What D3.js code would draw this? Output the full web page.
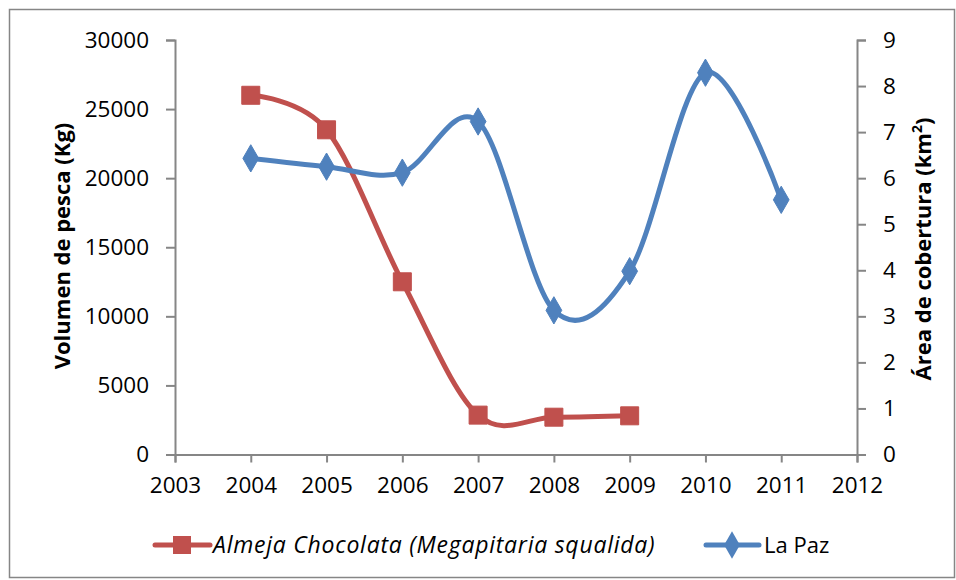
<!DOCTYPE html>
<html><head><meta charset="utf-8">
<script src="https://cdn.jsdelivr.net/npm/d3@7"></script>
<style>
body{margin:0;background:#fff;}
svg{display:block;font-family:"Open Sans",Arial,sans-serif;}
</style></head>
<body><svg id="c" width="956" height="580"></svg>
<script>
const years = [2004, 2005, 2006, 2007, 2008, 2009, 2010, 2011];
const almejaYears = [2004, 2005, 2006, 2007, 2008, 2009];
const almejaValues = [26000, 23500, 12500, 2850, 2700, 2800];
const laPazYears = [2004, 2005, 2006, 2007, 2008, 2009, 2010, 2011];
const laPazValues = [6.43, 6.25, 6.12, 7.23, 3.13, 3.98, 8.29, 5.53];
const xTicks = [2003, 2004, 2005, 2006, 2007, 2008, 2009, 2010, 2011, 2012];
const yLeftTicks = [0, 5000, 10000, 15000, 20000, 25000, 30000];
const yRightTicks = [0, 1, 2, 3, 4, 5, 6, 7, 8, 9];
const seriesNames = ["Almeja Chocolata (Megapitaria squalida)", "La Paz"];
const leftTitle = "Volumen de pesca (Kg)";

const svg = d3.select("#c");
const L = 175, R = 857, T = 40, B = 454.5;
const axisColor = "#868686";
const red = "#C0504D", blue = "#4F81BD";
const FONT = '"Open Sans",Arial,sans-serif';

svg.append("rect").attr("x", 9.5).attr("y", 9.5).attr("width", 945).attr("height", 568)
  .attr("fill", "none").attr("stroke", axisColor).attr("stroke-width", 1.5);

const x = d3.scaleLinear().domain([2003, 2012]).range([L, R]);
const yL = d3.scaleLinear().domain([0, 30000]).range([B, T]);
const yR = d3.scaleLinear().domain([0, 9]).range([B, T]);

function styleAxis(g){
  g.selectAll("path").attr("stroke", axisColor).attr("stroke-width", 2);
  g.selectAll("line").attr("stroke", axisColor).attr("stroke-width", 2);
  g.selectAll("text").attr("fill", "#000").style("font-size", "22.5px")
    .style("font-family", FONT);
}

const gx = svg.append("g").attr("transform", `translate(0,${B})`)
  .call(d3.axisBottom(x).tickValues(xTicks).tickFormat(d3.format("d")).tickSizeOuter(0).tickSize(8).tickPadding(15));
styleAxis(gx);
const gl = svg.append("g").attr("transform", `translate(${L},0)`)
  .call(d3.axisLeft(yL).tickValues(yLeftTicks).tickFormat(d3.format("d")).tickSizeOuter(0).tickSize(9).tickPadding(17));
styleAxis(gl);
const gr = svg.append("g").attr("transform", `translate(${R},0)`)
  .call(d3.axisRight(yR).tickValues(yRightTicks).tickFormat(d3.format("d")).tickSizeOuter(0).tickSize(9).tickPadding(17));
styleAxis(gr);

// Axis titles
svg.append("text").attr("transform", `translate(70,246) rotate(-90)`)
  .attr("text-anchor", "middle").style("font-size", "22px").style("font-weight", "bold")
  .text(leftTitle);
const rt = svg.append("text").attr("transform", `translate(931,249) rotate(-90)`)
  .attr("text-anchor", "middle").style("font-size", "22px").style("font-weight", "bold");
rt.append("tspan").text("Área de cobertura (km");
rt.append("tspan").attr("dy", -9).style("font-size", "14px").text("2");
rt.append("tspan").attr("dy", 9).text(")");

const curve = d3.curveCardinal.tension(0);
const almeja = almejaYears.map((y, i) => [y, almejaValues[i]]);
const lapaz = laPazYears.map((y, i) => [y, laPazValues[i]]);

svg.append("path").datum(almeja)
  .attr("d", d3.line().x(d => x(d[0])).y(d => yL(d[1])).curve(curve))
  .attr("fill", "none").attr("stroke", red).attr("stroke-width", 5);
svg.append("path").datum(lapaz)
  .attr("d", d3.line().x(d => x(d[0])).y(d => yR(d[1])).curve(curve))
  .attr("fill", "none").attr("stroke", blue).attr("stroke-width", 5);

const sq = d3.symbol().type(d3.symbolSquare).size(324);
const dm = d3.symbol().type(d3.symbolDiamond).size(215);

svg.selectAll(".sq").data(almeja).enter().append("path")
  .attr("transform", d => `translate(${x(d[0])},${yL(d[1])})`)
  .attr("d", sq).attr("fill", red).attr("stroke", red).attr("stroke-width", 1);
svg.selectAll(".dm").data(lapaz).enter().append("path")
  .attr("transform", d => `translate(${x(d[0])},${yR(d[1])})`)
  .attr("d", dm).attr("fill", blue).attr("stroke", blue).attr("stroke-width", 1);

// Legend
const ly = 545;
svg.append("line").attr("x1", 155).attr("x2", 210).attr("y1", ly).attr("y2", ly)
  .attr("stroke", red).attr("stroke-width", 5).attr("stroke-linecap", "round");
svg.append("path").attr("transform", `translate(182,${ly})`).attr("d", sq).attr("fill", red);
svg.append("text").attr("x", 213).attr("y", ly + 8).style("font-size", "23px").style("font-style", "italic")
  .style("letter-spacing", "0.75px")
  .text(seriesNames[0]);
svg.append("line").attr("x1", 706).attr("x2", 759).attr("y1", ly).attr("y2", ly)
  .attr("stroke", blue).attr("stroke-width", 5).attr("stroke-linecap", "round");
svg.append("path").attr("transform", `translate(732,${ly})`).attr("d", dm).attr("fill", blue);
svg.append("text").attr("x", 764).attr("y", ly + 8).style("font-size", "22px")
  .text(seriesNames[1]);
</script></body></html>
